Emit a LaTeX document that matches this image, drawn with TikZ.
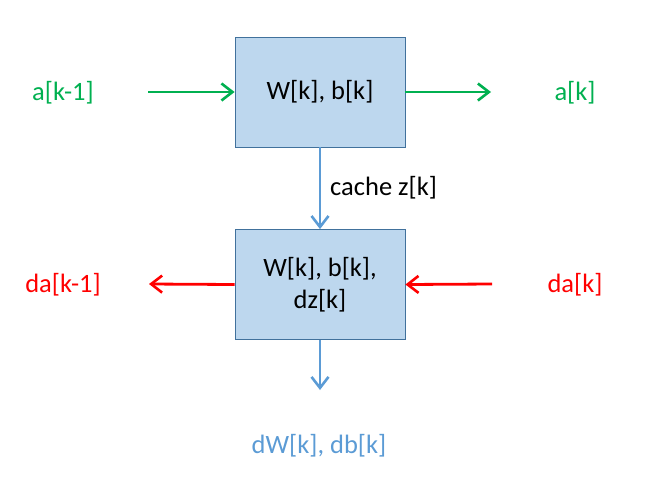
\documentclass[tikz,border=0pt]{standalone}
\usepackage{fontspec}
\setmainfont{Carlito}
\usetikzlibrary{arrows.meta}
\definecolor{gr}{HTML}{00B050}
\definecolor{rd}{HTML}{FF0000}
\definecolor{bl}{HTML}{5B9BD5}
\definecolor{boxfill}{HTML}{BDD7EE}
\definecolor{boxline}{HTML}{41719C}
\tikzset{
  blk/.style={draw=boxline, fill=boxfill, line width=0.8pt, minimum width=170pt, minimum height=110pt, inner sep=0pt, align=center, font=\fontsize{26.5}{32}\selectfont},
  lbl/.style={inner sep=0pt, font=\fontsize{26.5}{32}\selectfont},
  arr/.style={line width=2.8pt, -{Straight Barb[length=11pt,width=17pt,line width=2.6pt]}},
}
\begin{document}
\begin{tikzpicture}[x=1pt,y=-1pt]
\useasboundingbox (0,0) rectangle (660,499);
\node[blk] (top) at (320,92) {W[k], b[k]};
\node[blk] (bot) at (320,284.5) {W[k], b[k],\\dz[k]};
\node[lbl, text=gr] (akm1) at (63,93) {a[k-1]};
\node[lbl, text=gr] (ak) at (575,93) {a[k]};
\node[lbl, text=rd] (dakm1) at (63,285) {da[k-1]};
\node[lbl, text=rd] (dak) at (575,285) {da[k]};
\node[lbl, text=bl] (dw) at (319,446) {dW[k], db[k]};
\node[lbl, anchor=west] (cache) at (330,188) {cache z[k]};
\coordinate (g1) at (148,92);
\coordinate (g2) at (491,92);
\coordinate (r1) at (149,284);
\coordinate (r2) at (492,284);
\coordinate (b2) at (320,390);
\draw[arr, gr] (g1) -- (top.west);
\draw[arr, gr] (top.east) -- (g2);
\draw[arr, rd] (bot.west) -- (r1);
\draw[arr, rd] (r2) -- (bot.east);
\draw[arr, bl] (top.south) -- (bot.north);
\draw[arr, bl] (bot.south) -- (b2);
\end{tikzpicture}
\end{document}
